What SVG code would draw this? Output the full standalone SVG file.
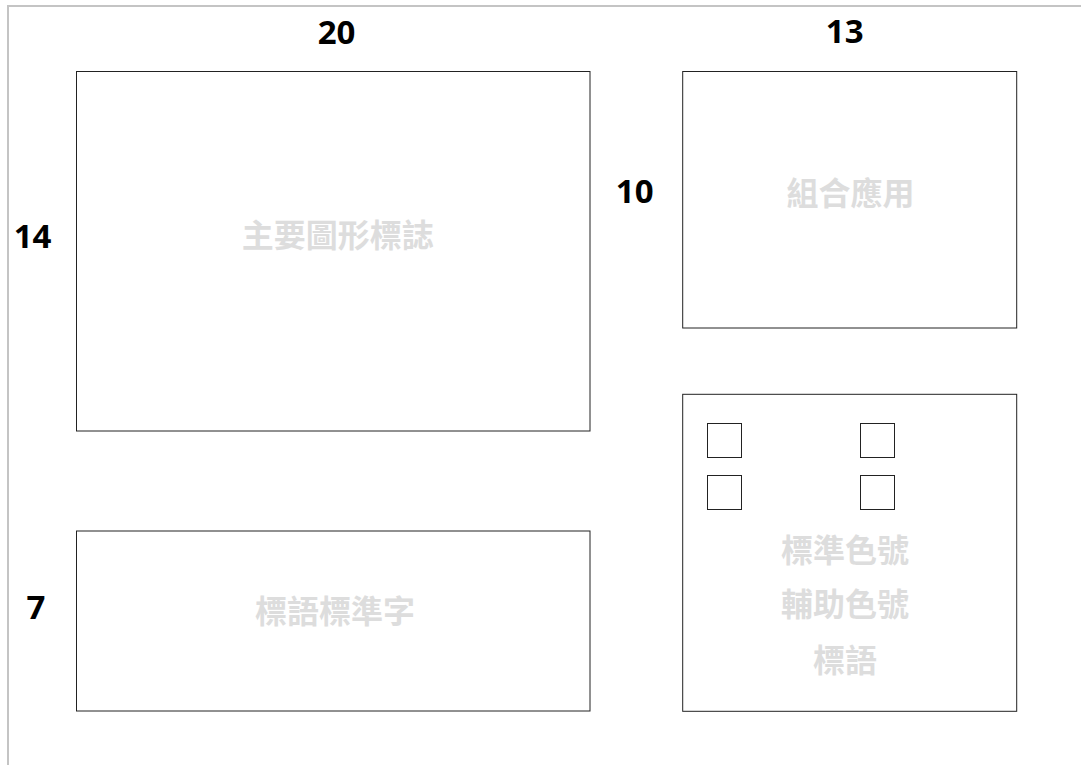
<svg xmlns="http://www.w3.org/2000/svg" width="1081" height="765" viewBox="0 0 1081 765">
<style>
.frame{fill:none;stroke:#c4c4c4;stroke-width:2}
.box{fill:#ffffff;stroke:#222222;stroke-width:1}
.num{font-family:"Open Sans","Noto Sans CJK TC",sans-serif;font-weight:bold;font-size:33px;fill:#000000;text-anchor:middle}
.lbl{font-family:"Noto Sans CJK TC","Noto Sans CJK SC",sans-serif;font-weight:bold;font-size:32px;fill:#dddddd;text-anchor:middle}
</style>
<rect width="1081" height="765" fill="#ffffff"/>
<g id="frame">
<path class="frame" d="M8,765 V6 H1081"/>
</g>
<g id="dimensions">
<text class="num" x="336.5" y="44">20</text>
<text class="num" x="844.7" y="43.3">13</text>
<text class="num" x="32.5" y="248.3">14</text>
<text class="num" x="634.7" y="202.7">10</text>
<text class="num" x="36" y="619.3">7</text>
</g>
<g id="main-logo">
<rect class="box" x="76.5" y="71.5" width="513.5" height="359.5"/>
<text class="lbl" x="337.7" y="246.5">主要圖形標誌</text>
</g>
<g id="combination">
<rect class="box" x="682.7" y="71.5" width="334" height="256.5"/>
<text class="lbl" x="850.5" y="205">組合應用</text>
</g>
<g id="slogan-font">
<rect class="box" x="76.5" y="531" width="513.5" height="180"/>
<text class="lbl" x="335" y="623">標語標準字</text>
</g>
<g id="colors">
<rect class="box" x="682.7" y="394.3" width="334" height="317"/>
<rect class="box" x="707.5" y="423.5" width="34" height="34"/>
<rect class="box" x="860.5" y="423.5" width="34" height="34"/>
<rect class="box" x="707.5" y="475.5" width="34" height="34"/>
<rect class="box" x="860.5" y="475.5" width="34" height="34"/>
<text class="lbl" x="845" y="562">標準色號</text>
<text class="lbl" x="845" y="616">輔助色號</text>
<text class="lbl" x="845" y="672">標語</text>
</g>
</svg>
